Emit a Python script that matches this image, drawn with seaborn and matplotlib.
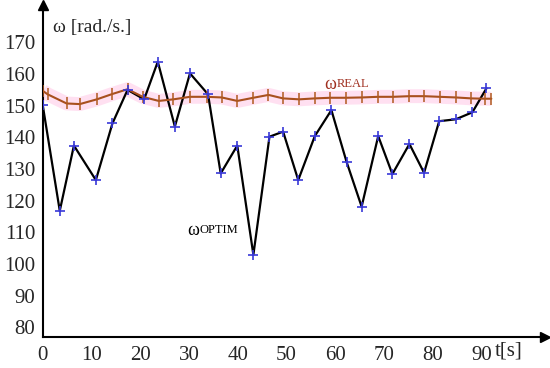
#Importing libraries
import pandas as pd
import matplotlib
matplotlib.use("Agg")
import matplotlib.pyplot as plt
import seaborn as sns
from matplotlib.ticker import FixedLocator

#Data
t_optim = [0, 3.5, 6.4, 10.9, 14.3, 17.4, 20.8, 23.6, 27.1, 30.2, 33.9, 36.5, 39.9,
           43.2, 46.5, 49.3, 52.4, 55.8, 59.2, 62.3, 65.4, 68.8, 71.7, 75.2, 78.2,
           81.3, 84.7, 88.1, 91.0]
w_optim = [150.2, 116.8, 137.4, 126.5, 144.4, 155.0, 152.0, 163.9, 143.4, 160.2, 153.6,
           128.6, 137.4, 102.9, 140.2, 141.8, 126.5, 140.4, 148.6, 132.3, 118.1, 140.4,
           128.4, 137.9, 128.8, 145.1, 145.7, 147.9, 155.5]

t_real = [0, 1.0, 4.9, 7.6, 11.1, 14.3, 17.4, 20.5, 23.8, 26.8, 30.2, 33.6, 36.7, 39.9,
          43.2, 46.3, 49.3, 52.6, 55.8, 59.0, 62.2, 65.5, 68.7, 71.9, 75.2, 78.2, 81.4,
          84.7, 87.9, 90.7, 92.0]
w_real = [154.7, 153.6, 150.7, 150.5, 152.0, 153.7, 155.2, 152.8, 151.5, 152.0, 152.8,
          152.8, 152.6, 151.5, 152.5, 153.4, 152.3, 152.0, 152.3, 152.5, 152.5, 152.6,
          152.8, 152.8, 153.0, 153.0, 152.8, 152.6, 152.3, 152.2, 152.2]

x_ticks = [0, 10, 20, 30, 40, 50, 60, 70, 80, 90]
y_ticks = [80, 90, 100, 110, 120, 130, 140, 150, 160, 170]

optim = pd.DataFrame({"t": t_optim, "w": w_optim})
real = pd.DataFrame({"t": t_real, "w": w_real})

sns.set_style("white")
plt.rcParams["font.family"] = ["Liberation Serif", "DejaVu Serif"]

fig = plt.figure(figsize=(5.5, 3.68), dpi=100)
ax = fig.add_axes([42.7 / 550, (368 - 337.3) / 368, (545 - 42.7) / 550, (337.3 - 5) / 368])

#Pink highlight band behind the real curve
sns.lineplot(data=real, x="t", y="w", ax=ax, color="#ffa8d8", alpha=0.35, linewidth=10,
             solid_capstyle="butt", zorder=1)
#Real speed
sns.lineplot(data=real, x="t", y="w", ax=ax, color="#a8501e", linewidth=1.5,
             marker="|", markersize=8, markeredgewidth=1.1, markeredgecolor="#b05a20", zorder=3)
#Optimal speed
sns.lineplot(data=optim, x="t", y="w", ax=ax, color="black", linewidth=1.6, zorder=2)
ax.plot(optim["t"], optim["w"], linestyle="none", marker="+", markersize=7,
        markeredgewidth=1.2, color="#3838d8", zorder=4)

ax.set_xlim(0, 103)
ax.set_ylim(76.84, 181.8)
ax.set_xticks(x_ticks)
ax.set_yticks(y_ticks)
ax.xaxis.set_minor_locator(FixedLocator([5, 15, 25, 35, 45, 55, 65, 75, 85]))
ax.yaxis.set_minor_locator(FixedLocator([85, 95, 105, 115, 125, 135, 145, 155, 165]))
ax.tick_params(which="major", direction="inout", length=9, width=1.2, labelsize=15, pad=1, color="black")
ax.tick_params(which="minor", direction="inout", length=6, width=1.0, color="black")
ax.tick_params(axis="x", pad=2)
for s in ["top", "right"]:
    ax.spines[s].set_visible(False)
for s in ["left", "bottom"]:
    ax.spines[s].set_linewidth(1.5)
    ax.spines[s].set_color("black")
ax.set_xlabel("")
ax.set_ylabel("")

#Axis arrows
ax.plot(1, 0, marker=">", color="black", markersize=7, transform=ax.transAxes, clip_on=False)
ax.plot(0, 1, marker="^", color="black", markersize=7, transform=ax.transAxes, clip_on=False)

#Labels
ax.text(2.1, 174.8, "ω [rad./s.]", fontsize=14, va="center", ha="left")
ax.text(92.6, 72.5, "t[s]", fontsize=15, va="center", ha="left", clip_on=False)
ax.text(57.7, 156.8, "ω", fontsize=13, color="#a03020", va="center", ha="left")
ax.text(60.2, 156.8, "REAL", fontsize=9, color="#a03020", va="center", ha="left")
ax.text(29.6, 110.7, "ω", fontsize=13, color="black", va="center", ha="left")
ax.text(32.1, 110.7, "OPTIM", fontsize=9, color="black", va="center", ha="left")

plt.savefig("out.png", dpi=100)
